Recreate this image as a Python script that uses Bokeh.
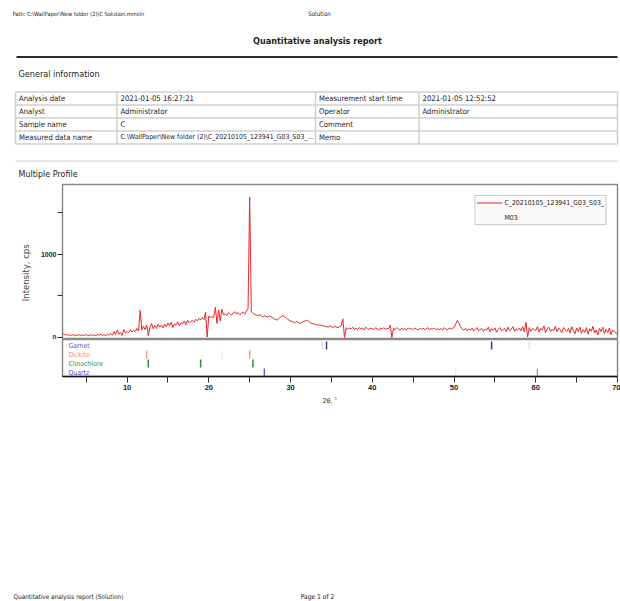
from bokeh.plotting import figure
from bokeh.layouts import column
from bokeh.models import Range1d, FixedTicker, Legend, LegendItem
from bokeh.core.properties import value
from bokeh.embed import file_html
from bokeh.resources import INLINE

# ---------------- data ----------------
TWO_THETA_START = 2.0   # deg, first measured angle
TWO_THETA_STEP = 0.2    # deg, measurement step
intensity_cps = [
    62, 45, 30, 38, 24, 33, 27, 36, 22, 31,          # 2.0 - 3.8
    26, 34, 21, 30, 25, 38, 20, 29, 33, 24,          # 4.0 - 5.8
    31, 22, 36, 27, 40, 25, 34, 21, 38, 30,          # 6.0 - 7.8
    48, 28, 72, 35, 88, 40, 62, 25, 95, 55,          # 8.0 - 9.8
    70, 58, 92, 66, 85, 72, 110, 78, 325, 90,        # 10.0 - 11.8
    135, 95, 150, 20, 120, 170, 105, 145, 110, 160,  # 12.0 - 13.8
    125, 150, 115, 160, 130, 175, 140, 185, 120, 165,  # 14.0 - 15.8
    150, 190, 140, 180, 165, 200, 155, 210, 175, 195,  # 16.0 - 17.8
    205, 185, 220, 200, 230, 210, 240, 215, 305, 5,    # 18.0 - 19.8
    260, 235, 255, 240, 365, 170, 330, 200, 340, 275,  # 20.0 - 21.8
    285, 265, 300, 280, 270, 295, 310, 285, 300, 275,  # 22.0 - 23.8
    290, 305, 280, 320, 345, 1690, 310, 290, 280, 270, # 24.0 - 25.8
    265, 275, 260, 250, 265, 255, 245, 260, 250, 240,  # 26.0 - 27.8
    225, 215, 210, 230, 250, 262, 255, 240, 225, 210,  # 28.0 - 29.8
    200, 190, 185, 180, 195, 175, 170, 185, 195, 200,  # 30.0 - 31.8
    210, 195, 180, 170, 165, 160, 150, 155, 145, 150,  # 32.0 - 33.8
    140, 135, 130, 125, 140, 130, 120, 135, 125, 120,  # 34.0 - 35.8
    130, 140, 225, 0, 120, 95, 115, 105, 125, 100,     # 36.0 - 37.8
    110, 95, 120, 100, 115, 90, 125, 105, 98, 112,     # 38.0 - 39.8
    108, 95, 118, 102, 90, 115, 100, 120, 95, 110,     # 40.0 - 41.8
    105, 150, 0, 110, 95, 120, 100, 88, 112, 98,       # 42.0 - 43.8
    105, 92, 115, 100, 108, 95, 112, 100, 90, 110,     # 44.0 - 45.8
    98, 115, 95, 105, 120, 92, 108, 100, 115, 95,      # 46.0 - 47.8
    105, 95, 110, 88, 120, 100, 95, 112, 102, 110,     # 48.0 - 49.8
    120, 160, 205, 175, 130, 100, 88, 110, 80, 105,    # 50.0 - 51.8
    85, 115, 78, 100, 120, 82, 95, 110, 75, 100,       # 52.0 - 53.8
    90, 125, 70, 105, 88, 115, 65, 100, 120, 80,       # 54.0 - 55.8
    95, 110, 70, 125, 85, 100, 130, 75, 105, 90,       # 56.0 - 57.8
    115, 80, 130, 70, 185, 5, 120, 75, 110, 95,        # 58.0 - 59.8
    85, 130, 65, 110, 90, 140, 60, 105, 125, 70,       # 60.0 - 61.8
    100, 80, 135, 70, 115, 90, 60, 120, 95, 75,        # 62.0 - 63.8
    110, 55, 130, 80, 45, 115, 70, 125, 50, 95,        # 64.0 - 65.8
    60, 120, 40, 105, 75, 135, 55, 90, 30, 110,        # 66.0 - 67.8
    70, 125, 45, 100, 60, 115, 35, 90, 75, 55,         # 68.0 - 69.8
    45,                                                # 70.0
]
two_theta = [round(TWO_THETA_START + i * TWO_THETA_STEP, 3) for i in range(len(intensity_cps))]

series_label_line1 = "C_20210105_123941_G03_S03_"
series_label_line2 = "M03"

phase_names = ["Garnet", "Dickite", "Clinochlore", "Quartz"]
garnet_peaks = [33.9, 34.4, 54.6, 59.2]
garnet_strength = [0.15, 1.0, 1.0, 0.15]
dickite_peaks = [12.4, 19.2, 21.6, 25.0]
dickite_strength = [0.8, 0.12, 0.2, 0.8]
clinochlore_peaks = [12.6, 19.0, 25.4]
clinochlore_strength = [1.0, 1.0, 1.0]
quartz_peaks = [26.8, 50.2, 60.2]
quartz_strength = [1.0, 0.15, 0.65]

x_major_ticks = [10, 20, 30, 40, 50, 60, 70]
x_minor_ticks = [5, 15, 25, 35, 45, 55, 65]
y_ticks = [0, 500, 1000, 1500]
y_tick_labels = {0: "0", 500: "", 1000: "1000", 1500: ""}

info_rows = [
    ["Analysis date", "2021-01-05 16:27:21", "Measurement start time", "2021-01-05 12:52:52"],
    ["Analyst", "Administrator", "Operator", "Administrator"],
    ["Sample name", "C", "Comment", ""],
    ["Measured data name", "C:\\WallPaper\\New folder (2)\\C_20210105_123941_G03_S03_...", "Memo", ""],
]

# ---------------- styling ----------------
W = 620
PAGE_FONT = "DejaVu Sans Condensed, Liberation Sans, sans-serif"
CHART_FONT = "Liberation Sans, Arial, sans-serif"
TEXT_COL = "#222222"
NBSP = "\u00a0"


def blank(h):
    p = figure(width=W, height=h, x_range=Range1d(0, W), y_range=Range1d(h, 0),
               output_backend="svg", toolbar_location=None,
               x_axis_location=None, y_axis_location=None, min_border=0)
    p.outline_line_color = None
    p.grid.visible = False
    p.background_fill_color = "white"
    p.border_fill_color = "white"
    p.frame_align = False
    return p


def put(p, x, y, s, size, bold=False, align="left", color=TEXT_COL, font=PAGE_FONT):
    p.text(x=[x], y=[y], text=[s], text_font=value(font), text_font_size=size,
           text_font_style="bold" if bold else "normal", text_align=align,
           text_baseline="middle", text_color=color)


# ---------- page header + general information ----------
pa = blank(180)
put(pa, 12, 13, "Path: C:\\WallPaper\\New folder (2)\\C Solution.mmsln", "5.7px")
put(pa, 319, 13, "Solution", "6.2px", align="center")
put(pa, 317, 40, "Quantitative analysis report", "9px", bold=True, align="center")
pa.segment(x0=[16], y0=[56.5], x1=[617], y1=[56.5], line_color="#2b2b2b", line_width=2.2)
put(pa, 18, 73, "General information", "9px")

row_edges = [91.5, 104.5, 117.5, 130.5, 143.5]
col_edges = [15, 116.5, 315, 418.5, 617]
pa.segment(x0=[col_edges[0]] * 5, y0=row_edges, x1=[col_edges[-1]] * 5, y1=row_edges,
           line_color="#cfcfcf", line_width=1.5)
pa.segment(x0=col_edges, y0=[row_edges[0]] * 5, x1=col_edges, y1=[row_edges[-1]] * 5,
           line_color="#cfcfcf", line_width=1.5)
for r, row in enumerate(info_rows):
    yc = (row_edges[r] + row_edges[r + 1]) / 2 - 0.5
    for c, cell in enumerate(row):
        if cell:
            size = "6.9px" if len(cell) > 40 else "7.7px"
            put(pa, col_edges[c] + 3.5, yc, cell, size)

pa.segment(x0=[15], y0=[160.5], x1=[617], y1=[160.5], line_color="#dedede", line_width=1.5)
put(pa, 18, 173, "Multiple Profile", "8.9px")

# ---------- main profile chart ----------
xr = Range1d(2.1, 70.0)
pb = figure(width=W, height=159, x_range=xr, y_range=Range1d(-24, 1843),
            output_backend="svg", toolbar_location=None, x_axis_location=None,
            min_border_left=62, min_border_right=3, min_border_top=4, min_border_bottom=0)
pb.grid.visible = False
pb.outline_line_color = "#8a8a8a"
pb.outline_line_width = 1.5
pb.background_fill_color = "white"
pb.border_fill_color = "white"

prof = pb.line(two_theta, intensity_cps, line_color="#e8262c", line_width=1)
blank_r = pb.line(x=[], y=[], line_alpha=0)

ya = pb.yaxis[0]
ya.ticker = FixedTicker(ticks=y_ticks)
ya.major_label_overrides = y_tick_labels
ya.axis_line_color = None
ya.major_tick_line_color = "#333333"
ya.major_tick_out = 5
ya.major_tick_in = 0
ya.minor_tick_line_color = None
ya.major_label_standoff = 1
ya.major_label_text_font = CHART_FONT
ya.major_label_text_font_size = "7px"
ya.major_label_text_font_style = "bold"
ya.major_label_text_color = "#222222"
ya.axis_label = "Intensity, cps" + NBSP * 8
ya.axis_label_text_font = "DejaVu Sans"
ya.axis_label_text_font_size = "8.5px"
ya.axis_label_text_font_style = "normal"
ya.axis_label_text_color = "#444444"
ya.axis_label_standoff = 7

legend = Legend(items=[LegendItem(label=series_label_line1, renderers=[prof]),
                       LegendItem(label=series_label_line2, renderers=[blank_r])],
                location="top_right", margin=11, padding=1, spacing=4,
                glyph_width=26, glyph_height=11, label_height=11, label_standoff=2,
                label_text_font=PAGE_FONT, label_text_font_size="6.9px",
                label_text_color=TEXT_COL, border_line_color="#9a9a9a",
                border_line_width=1.5, background_fill_color="#fafafa",
                background_fill_alpha=1.0)
pb.add_layout(legend)

# ---------- phase reference panel ----------
pc = figure(width=W, height=55, x_range=xr, y_range=Range1d(37 / 9, 0),
            output_backend="svg", toolbar_location=None, y_axis_location=None,
            min_border_left=62, min_border_right=3, min_border_top=0, min_border_bottom=18)
pc.grid.visible = False
pc.outline_line_color = "#8a8a8a"
pc.outline_line_width = 1.5
pc.background_fill_color = "white"
pc.border_fill_color = "white"

phase_label_colors = ["#4f5db3", "#f08c8c", "#2e8a3c", "#5a48a6"]
phase_line_colors = ["#3a3a9c", "#f08080", "#2a8a3a", "#7a5cc0"]
phase_peaks = [garnet_peaks, dickite_peaks, clinochlore_peaks, quartz_peaks]
phase_strength = [garnet_strength, dickite_strength, clinochlore_strength, quartz_strength]
for k, (pk, st) in enumerate(zip(phase_peaks, phase_strength)):
    pc.segment(x0=pk, y0=[k + 0.22] * len(pk), x1=pk, y1=[k + 1.11] * len(pk),
               line_color=phase_line_colors[k], line_alpha=st, line_width=1.5)
label_x = xr.start + 0.73
pc.text(x=[label_x] * 4, y=[k + 0.667 for k in range(4)], text=phase_names,
        text_color=phase_label_colors, text_font=value(PAGE_FONT),
        text_font_size="6.9px", text_baseline="middle", text_align="left")

xa = pc.xaxis[0]
xa.ticker = FixedTicker(ticks=x_major_ticks, minor_ticks=x_minor_ticks)
xa.axis_line_color = "#111111"
xa.axis_line_width = 1.5
xa.major_tick_out = 6
xa.major_tick_in = 0
xa.minor_tick_out = 6
xa.minor_tick_in = 0
xa.major_tick_line_color = "#333333"
xa.minor_tick_line_color = "#333333"
xa.major_label_standoff = 2
xa.major_label_text_font = CHART_FONT
xa.major_label_text_font_size = "7.5px"
xa.major_label_text_font_style = "bold"
xa.major_label_text_color = "#222222"

# ---------- rest of page + footer ----------
pd_ = blank(207)
put(pd_, 322, 5.5, "2θ, °", "7px", font=CHART_FONT, color="#333333")
put(pd_, 13, 202, "Quantitative analysis report (Solution)", "6.4px")
put(pd_, 317, 202, "Page 1 of 2", "6.7px", align="center")

page = column(pa, pb, pc, pd_, spacing=0)
open("out.html", "w").write(file_html(page, INLINE))
